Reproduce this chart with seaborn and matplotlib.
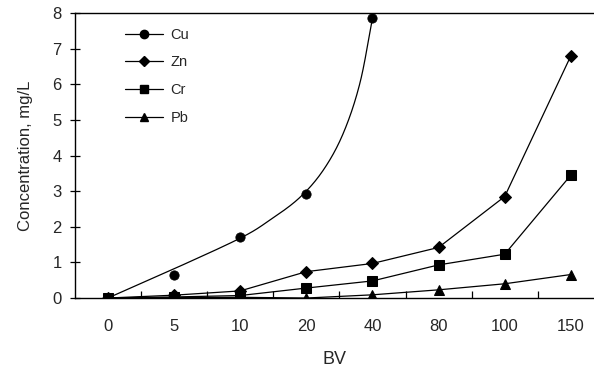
import numpy as np
import pandas as pd
import matplotlib
matplotlib.use("Agg")
import matplotlib.pyplot as plt
from matplotlib.lines import Line2D
import seaborn as sns

# ---- data ----
bv_labels = ["0", "5", "10", "20", "40", "80", "100", "150"]
cu_points = [0.0, 0.65, 1.72, 2.93, 7.85]           # measured Cu (0..40 BV)
zn = [0.0, 0.08, 0.20, 0.74, 0.97, 1.42, 2.85, 6.80]
cr = [0.0, 0.03, 0.07, 0.28, 0.48, 0.93, 1.23, 3.45]
pb = [0.0, 0.01, 0.02, 0.00, 0.09, 0.23, 0.40, 0.66]
# Cu trend curve (category-position, value)
cu_curve_pos = [0.0, 1.0, 2.0, 2.45, 2.9, 3.26, 3.56, 3.81, 4.0]
cu_curve_val = [0.0, 0.82, 1.68, 2.19, 2.82, 3.6, 4.63, 6.03, 7.85]

sns.set_theme(style="white")
plt.rcParams['font.family'] = ['Liberation Sans', 'DejaVu Sans']

fig = plt.figure(figsize=(5.94, 3.73), dpi=100)
ax = fig.add_axes([0.126, 0.201, 0.874, 0.764])

pos = np.arange(len(bv_labels))
df = pd.DataFrame({"pos": np.concatenate([pos, pos, pos]),
                   "val": zn + cr + pb,
                   "metal": ["Zn"] * 8 + ["Cr"] * 8 + ["Pb"] * 8})

# smooth Cu trend curve (Catmull-Rom through the read points)
def catmull(xs, ys, n=30):
    xs = np.asarray(xs, float); ys = np.asarray(ys, float)
    px = np.concatenate([[2 * xs[0] - xs[1]], xs, [2 * xs[-1] - xs[-2]]])
    py = np.concatenate([[2 * ys[0] - ys[1]], ys, [2 * ys[-1] - ys[-2]]])
    ox, oy = [], []
    for i in range(1, len(px) - 2):
        t = np.linspace(0, 1, n, endpoint=False)
        for arr, out in ((px, ox), (py, oy)):
            p0, p1, p2, p3 = arr[i - 1], arr[i], arr[i + 1], arr[i + 2]
            out.extend(0.5 * ((2 * p1) + (-p0 + p2) * t +
                              (2 * p0 - 5 * p1 + 4 * p2 - p3) * t ** 2 +
                              (-p0 + 3 * p1 - 3 * p2 + p3) * t ** 3))
    ox.append(xs[-1]); oy.append(ys[-1])
    return np.array(ox), np.array(oy)

cx, cy = catmull(cu_curve_pos, cu_curve_val)
sns.lineplot(x=cx, y=cy, ax=ax, color="black", lw=0.9, sort=False,
             estimator=None, legend=False)
sns.scatterplot(x=pos[:len(cu_points)], y=cu_points, ax=ax, color="black",
                marker="o", s=45, edgecolor="black", zorder=5, legend=False)

markers = {"Zn": "D", "Cr": "s", "Pb": "^"}
msize = {"Zn": 6, "Cr": 7, "Pb": 7}
for m in ["Zn", "Cr", "Pb"]:
    sub = df[df.metal == m]
    sns.lineplot(data=sub, x="pos", y="val", ax=ax, color="black", lw=0.9,
                 marker=markers[m], markersize=msize[m], markeredgecolor="black",
                 estimator=None, legend=False)

ax.set_xlim(-0.5, 7.35)
ax.set_ylim(0, 8)
ax.set_yticks(range(0, 9))
ax.set_yticklabels([str(i) for i in range(0, 9)], fontsize=12)
ax.set_xticks(np.arange(0.5, 7, 1))
ax.set_xticklabels([])
ax.set_xticks(pos, minor=True)
ax.set_xticklabels(bv_labels, minor=True, fontsize=12)
ax.tick_params(axis="x", which="major", direction="in", length=5, width=0.9,
               color="black", bottom=True)
ax.tick_params(axis="x", which="minor", length=0, pad=15, bottom=True)
ax.tick_params(axis="y", direction="inout", length=7, width=0.9,
               color="black", left=True, pad=6)
for s in ["left", "bottom", "top"]:
    ax.spines[s].set_color("black")
    ax.spines[s].set_linewidth(1.0)
ax.spines["right"].set_visible(False)

ax.set_xlabel("BV", fontsize=13, labelpad=12)
ax.set_ylabel("Concentration, mg/L", fontsize=12, labelpad=14)

handles = [Line2D([], [], color="black", lw=0.9, marker="o", markersize=6),
           Line2D([], [], color="black", lw=0.9, marker="D", markersize=5),
           Line2D([], [], color="black", lw=0.9, marker="s", markersize=6),
           Line2D([], [], color="black", lw=0.9, marker="^", markersize=6)]
ax.legend(handles, ["Cu", "Zn", "Cr", "Pb"], loc="upper left",
          bbox_to_anchor=(0.072, 0.995), frameon=False, fontsize=10.5,
          handlelength=2.6, labelspacing=0.95, handletextpad=0.5)

fig.savefig("out.png", dpi=100)
